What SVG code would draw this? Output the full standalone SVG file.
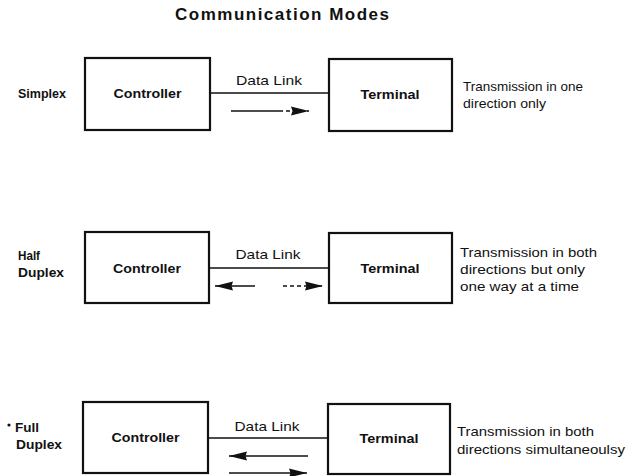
<svg xmlns="http://www.w3.org/2000/svg" width="634" height="476" viewBox="0 0 634 476">
  <style>
    .box { fill: #ffffff; stroke: #111111; stroke-width: 2.2; }
    .lbl { font-family: "Liberation Sans", Arial, sans-serif; font-weight: bold; font-size: 13px; fill: #111111; }
    .txt { font-family: "Liberation Sans", Arial, sans-serif; font-size: 13px; fill: #111111; }
    .title { font-family: "Liberation Sans", Arial, sans-serif; font-weight: bold; font-size: 17px; fill: #111111; }
    .link { stroke: #111111; stroke-width: 1.3; fill: none; }
    .dir { stroke: #111111; stroke-width: 1.4; fill: none; }
    .dash { stroke: #111111; stroke-width: 1.4; fill: none; stroke-dasharray: 4 3; }
  </style>
  <defs>
    <!-- long narrow filled arrowhead shared by all direction arrows -->
    <marker id="head" viewBox="0 0 18 10" refX="18" refY="5" markerWidth="18" markerHeight="10" markerUnits="userSpaceOnUse" orient="auto-start-reverse">
      <path d="M0,0.5 L18,5 L0,9.5 L1.5,5 Z" fill="#111111"/>
    </marker>
  </defs>
  <rect width="634" height="476" fill="#ffffff"/>

  <text class="title" x="282" y="20" text-anchor="middle" textLength="214" lengthAdjust="spacing">Communication Modes</text>

  <!-- mode labels -->
  <g id="mode-labels">
    <text class="lbl" x="18" y="98" textLength="48" lengthAdjust="spacingAndGlyphs">Simplex</text>
    <text class="lbl" x="18" y="260" textLength="22" lengthAdjust="spacingAndGlyphs">Half</text>
    <text class="lbl" x="18" y="277" textLength="46" lengthAdjust="spacingAndGlyphs">Duplex</text>
    <circle cx="9" cy="425" r="1.6" fill="#111111"/>
    <text class="lbl" x="15" y="432" textLength="24" lengthAdjust="spacingAndGlyphs">Full</text>
    <text class="lbl" x="16" y="449" textLength="46" lengthAdjust="spacingAndGlyphs">Duplex</text>
  </g>

  <!-- simplex -->
  <g id="simplex-controller">
    <rect class="box" x="85" y="58" width="125" height="72"/>
    <text class="lbl" x="147.5" y="98" text-anchor="middle" textLength="68" lengthAdjust="spacingAndGlyphs">Controller</text>
  </g>
  <g id="simplex-terminal">
    <rect class="box" x="329" y="59" width="123" height="72"/>
    <text class="lbl" x="390" y="99" text-anchor="middle" textLength="59" lengthAdjust="spacingAndGlyphs">Terminal</text>
  </g>
  <g id="simplex-note">
    <text class="txt" x="463" y="91" textLength="120" lengthAdjust="spacingAndGlyphs">Transmission in one</text>
    <text class="txt" x="463" y="108" textLength="83" lengthAdjust="spacingAndGlyphs">direction only</text>
  </g>

  <!-- half duplex -->
  <g id="half-controller">
    <rect class="box" x="85" y="232" width="124" height="71"/>
    <text class="lbl" x="147" y="273" text-anchor="middle" textLength="68" lengthAdjust="spacingAndGlyphs">Controller</text>
  </g>
  <g id="half-terminal">
    <rect class="box" x="329" y="233" width="123" height="70"/>
    <text class="lbl" x="390" y="273" text-anchor="middle" textLength="59" lengthAdjust="spacingAndGlyphs">Terminal</text>
  </g>
  <g id="half-note">
    <text class="txt" x="460" y="257" textLength="137" lengthAdjust="spacingAndGlyphs">Transmission in both</text>
    <text class="txt" x="460" y="274" textLength="125" lengthAdjust="spacingAndGlyphs">directions but only</text>
    <text class="txt" x="460" y="291" textLength="119" lengthAdjust="spacingAndGlyphs">one way at a time</text>
  </g>

  <!-- full duplex -->
  <g id="full-controller">
    <rect class="box" x="83" y="402" width="125" height="71"/>
    <text class="lbl" x="145.5" y="442" text-anchor="middle" textLength="68" lengthAdjust="spacingAndGlyphs">Controller</text>
  </g>
  <g id="full-terminal">
    <rect class="box" x="328" y="404" width="122" height="70"/>
    <text class="lbl" x="389" y="443" text-anchor="middle" textLength="59" lengthAdjust="spacingAndGlyphs">Terminal</text>
  </g>
  <g id="full-note">
    <text class="txt" x="457" y="436" textLength="137" lengthAdjust="spacingAndGlyphs">Transmission in both</text>
    <text class="txt" x="457" y="454" textLength="168" lengthAdjust="spacingAndGlyphs">directions simultaneoulsy</text>
  </g>

  <!-- data links and direction arrows -->
  <g id="connectors">
    <line class="link" x1="210" y1="93" x2="329" y2="93"/>
    <text class="txt" x="269" y="85" text-anchor="middle" textLength="66" lengthAdjust="spacingAndGlyphs">Data Link</text>
    <line class="dir" x1="231" y1="111" x2="283" y2="111"/>
    <line class="dash" x1="286" y1="111" x2="309" y2="111" marker-end="url(#head)"/>

    <line class="link" x1="209" y1="268" x2="329" y2="268"/>
    <text class="txt" x="268" y="259" text-anchor="middle" textLength="65" lengthAdjust="spacingAndGlyphs">Data Link</text>
    <line class="dir" x1="255" y1="286" x2="215" y2="286" marker-end="url(#head)"/>
    <line class="dash" x1="283" y1="286" x2="323" y2="286" marker-end="url(#head)"/>

    <line class="link" x1="208" y1="438" x2="328" y2="438"/>
    <text class="txt" x="267" y="431" text-anchor="middle" textLength="65" lengthAdjust="spacingAndGlyphs">Data Link</text>
    <line class="dir" x1="308" y1="456" x2="229" y2="456" marker-end="url(#head)"/>
    <line class="dir" x1="229" y1="473" x2="307" y2="473" marker-end="url(#head)"/>
  </g>
</svg>
